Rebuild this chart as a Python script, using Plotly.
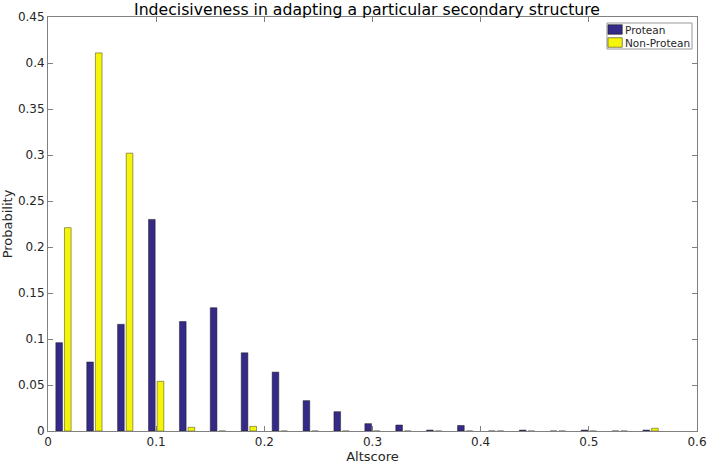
import plotly.graph_objects as go

bin_centers = [0.0143, 0.0429, 0.0714, 0.1000, 0.1286, 0.1571, 0.1857, 0.2143,
               0.2429, 0.2714, 0.3000, 0.3286, 0.3571, 0.3857, 0.4143, 0.4429,
               0.4714, 0.5000, 0.5286, 0.5571]
protean = [0.096, 0.075, 0.116, 0.230, 0.119, 0.134, 0.085, 0.064,
           0.033, 0.021, 0.008, 0.0065, 0.001, 0.006, 0.0, 0.001,
           0.0, 0.001, 0.0, 0.001]
non_protean = [0.221, 0.411, 0.302, 0.054, 0.004, 0.0, 0.005, 0.0,
               0.0, 0.0, 0.0, 0.0, 0.0, 0.0, 0.0, 0.0,
               0.0, 0.0, 0.0, 0.003]
series_names = ["Protean", "Non-Protean"]
x_ticks = [0, 0.1, 0.2, 0.3, 0.4, 0.5, 0.6]
y_ticks = [0, 0.05, 0.1, 0.15, 0.2, 0.25, 0.3, 0.35, 0.4, 0.45]

FONT = "DejaVu Sans"
TXT = "#262626"
AX = "#808080"
COLORS = ["#352A87", "#F5F50A"]
EDGES = ["#1a1a1a", "#3a3a1a"]

fig = go.Figure()
for name, vals, col, edge in zip(series_names, [protean, non_protean], COLORS, EDGES):
    fig.add_trace(go.Bar(x=bin_centers, y=vals, name=name, showlegend=False,
                         marker=dict(color=col, line=dict(color=edge, width=0.5))))

axis_common = dict(showgrid=False, zeroline=False, showline=True, linecolor=AX, linewidth=1,
                   mirror="ticks", ticks="inside", ticklen=5, tickcolor=AX, automargin=False,
                   tickfont=dict(family=FONT, size=12, color=TXT))

# Compact MATLAB-style legend box (paper coordinates)
L, R, T, B = 0.8613, 0.9923, 0.9855, 0.9227
shapes = [dict(type="rect", xref="paper", yref="paper", x0=L, x1=R, y0=B, y1=T,
               line=dict(color="#999999", width=1), fillcolor="white", layer="above")]
annotations = []
row_h = (T - B) / 2
for i, (name, col, edge) in enumerate(zip(series_names, COLORS, EDGES)):
    yc = T - row_h * (i + 0.5)
    shapes.append(dict(type="rect", xref="paper", yref="paper",
                       x0=L + 0.0015, x1=L + 0.0235, y0=yc - 0.0115, y1=yc + 0.0115,
                       line=dict(color=edge, width=0.6), fillcolor=col, layer="above"))
    annotations.append(dict(text=name, xref="paper", yref="paper", x=L + 0.025, y=yc,
                            xanchor="left", yanchor="middle", showarrow=False,
                            font=dict(family=FONT, size=10.5, color=TXT)))

fig.update_layout(
    width=708, height=464,
    margin=dict(l=48, r=11, t=17, b=33),
    paper_bgcolor="white", plot_bgcolor="white",
    barmode="group", bargap=0.44, bargroupgap=0.23,
    title=dict(text="Indecisiveness in adapting a particular secondary structure",
               x=367 / 708, xanchor="center", y=1 - 9 / 464, yanchor="middle",
               font=dict(family=FONT, size=15.7, color="#000000")),
    xaxis=dict(range=[0, 0.6], tickvals=x_ticks, ticktext=[f"{v:g}" for v in x_ticks],
               title=dict(text="Altscore", font=dict(family=FONT, size=13, color=TXT), standoff=2),
               **axis_common),
    yaxis=dict(range=[0, 0.45], tickvals=y_ticks, ticktext=[f"{v:g}" for v in y_ticks],
               title=dict(text="Probability", font=dict(family=FONT, size=13, color=TXT), standoff=5),
               **axis_common),
    shapes=shapes,
    annotations=annotations,
    showlegend=False,
)

fig.write_html("out.html", config={"displayModeBar": False},
               post_script="document.body.style.margin='0';document.body.style.padding='0';")
